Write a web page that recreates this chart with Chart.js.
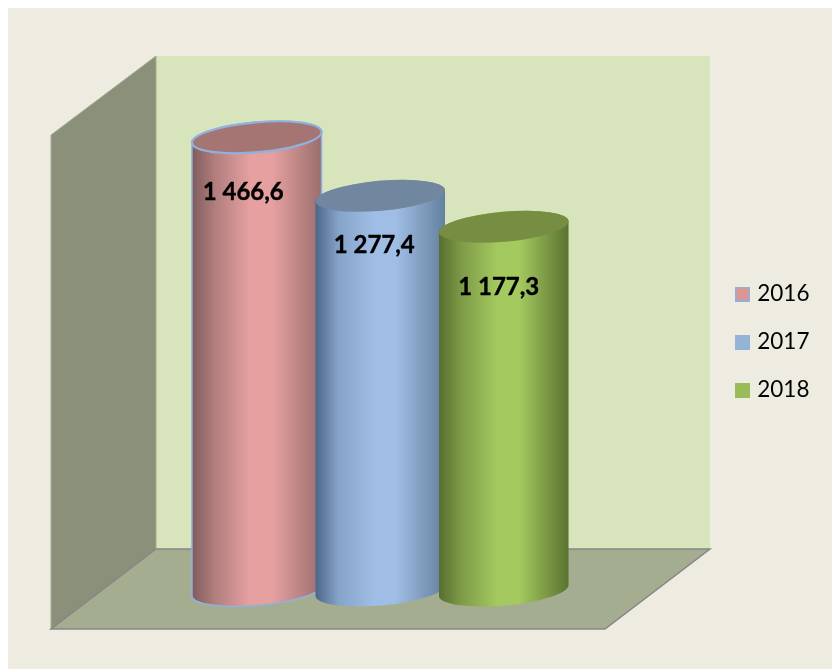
<!DOCTYPE html>
<html>
<head>
<meta charset="utf-8">
<title>Chart</title>
<script src="https://cdn.jsdelivr.net/npm/chart.js@4"></script>
<style>
  html, body { margin: 0; padding: 0; background: #fff; }
  canvas { display: block; }
</style>
</head>
<body>
<canvas id="chart" width="832" height="669"></canvas>
<script>
// data
var categories = [''];
var seriesNames = ['2016', '2017', '2018'];
var values = [1466.6, 1277.4, 1177.3];
var valueLabels = ['1 466,6', '1 277,4', '1 177,3'];

// styling per series
var legendFill = ['#D99694', '#95B3D7', '#9BBB59'];
var edgeLine = ['#8FB1DE', null, null];
var capFill = ['#A57573', '#71879F', '#768D42'];
var bodyStops = [
  ['#7E5B5B', '#B27E7E', '#E6A0A0', '#E6A0A0', '#9A6E6E'],
  ['#4C6687', '#86A3C8', '#A0BEE5', '#A0BEE5', '#64809F'],
  ['#566F2E', '#7F9C48', '#A3C95F', '#A3C95F', '#5A7230']
];
var labelShift = [[-13.5, 55], [-6, 49], [-5, 60]];

// box frame around the bars
var panel = { x: 8, y: 8, w: 824, h: 661, fill: '#EEECE1' };
var backWall = { left: 156, right: 710, top: 56, bottom: 549, fill: '#D8E4BC' };
var depth = { x: 105, y: 80 };

// legend swatch as a small canvas so the text can sit closer to it
function makeSwatch(fill, border) {
  var c = document.createElement('canvas');
  c.width = 15;
  c.height = 15;
  var g = c.getContext('2d');
  g.fillStyle = fill;
  g.fillRect(0, 0, 15, 15);
  if (border) {
    g.strokeStyle = border;
    g.lineWidth = 1.5;
    g.strokeRect(0.75, 0.75, 13.5, 13.5);
  }
  return c;
}

var cylinderPlugin = {
  id: 'cylinder3d',
  beforeDraw: function(chart) {
    var ctx = chart.ctx, w = backWall;
    ctx.save();
    ctx.fillStyle = panel.fill;
    ctx.fillRect(panel.x, panel.y, panel.w, panel.h);
    ctx.fillStyle = w.fill;
    ctx.fillRect(w.left, w.top, w.right - w.left, w.bottom - w.top);

    // left wall
    ctx.beginPath();
    ctx.moveTo(w.left - depth.x, w.top + depth.y - 1);
    ctx.lineTo(w.left, w.top);
    ctx.lineTo(w.left, w.bottom);
    ctx.lineTo(w.left - depth.x, w.bottom + depth.y);
    ctx.closePath();
    ctx.fillStyle = '#8A9079';
    ctx.fill();
    ctx.strokeStyle = '#A3AC8E';
    ctx.lineWidth = 1;
    ctx.stroke();

    // floor
    ctx.beginPath();
    ctx.moveTo(w.left, w.bottom);
    ctx.lineTo(w.right, w.bottom);
    ctx.lineTo(w.right - depth.x, w.bottom + depth.y);
    ctx.lineTo(w.left - depth.x, w.bottom + depth.y);
    ctx.closePath();
    ctx.fillStyle = '#A4AD8F';
    ctx.fill();
    ctx.strokeStyle = '#868686';
    ctx.lineWidth = 1.5;
    ctx.stroke();
    ctx.restore();
  },
  // the default rectangles are replaced by the cylinders below
  beforeDatasetDraw: function() { return false; },
  afterDatasetsDraw: function(chart) {
    for (var i = 0; i < values.length; i++) {
      drawCylinder(chart, i);
    }
  },
  // legend sits far right of the plot, away from the bars
  afterLayout: function(chart) {
    var lg = chart.legend;
    var pad = lg.options.labels.padding;
    var mid = 342;
    lg.left = 739 - pad;
    lg.right = 832;
    lg.top = mid - lg.columnSizes[0].height / 2 - pad / 2;
    lg.bottom = lg.top + lg.columnSizes[0].height + pad;
  }
};

function drawCylinder(chart, i) {
  var ctx = chart.ctx;
  var el = chart.getDatasetMeta(i).data[0];
  var rx = el.width / 2, ry = 15, rot = -5 * Math.PI / 180;
  var left = el.x - rx, right = el.x + rx;
  var baseY = el.base - 0.5;
  var stops = bodyStops[i];

  var grad = ctx.createLinearGradient(left, 0, right, 0);
  grad.addColorStop(0, stops[0]);
  grad.addColorStop(0.18, stops[1]);
  grad.addColorStop(0.45, stops[2]);
  grad.addColorStop(0.62, stops[3]);
  grad.addColorStop(1, stops[4]);

  ctx.save();
  ctx.beginPath();
  ctx.ellipse(el.x, baseY, rx, ry, rot, 0, Math.PI, false);
  ctx.ellipse(el.x, el.y, rx, ry, rot, Math.PI, 0, false);
  ctx.closePath();
  ctx.fillStyle = grad;
  ctx.fill();
  if (edgeLine[i]) {
    ctx.strokeStyle = edgeLine[i];
    ctx.lineWidth = 1.5;
    ctx.stroke();
  }

  ctx.beginPath();
  ctx.ellipse(el.x, el.y, rx, ry, rot, 0, Math.PI * 2);
  ctx.fillStyle = capFill[i];
  ctx.fill();
  if (edgeLine[i]) {
    ctx.strokeStyle = edgeLine[i];
    ctx.lineWidth = 2.2;
    ctx.stroke();
  }

  // a thin outline brings the bold weight closer to the original
  ctx.fillStyle = '#000';
  ctx.strokeStyle = '#000';
  ctx.lineWidth = 0.4;
  ctx.font = 'bold 24px Lato';
  ctx.textAlign = 'center';
  ctx.textBaseline = 'middle';
  ctx.fillText(valueLabels[i], el.x + labelShift[i][0], el.y + labelShift[i][1]);
  ctx.strokeText(valueLabels[i], el.x + labelShift[i][0], el.y + labelShift[i][1]);
  ctx.restore();
}

var datasets = seriesNames.map(function(name, i) {
  return {
    label: name,
    data: [values[i]],
    backgroundColor: legendFill[i],
    categoryPercentage: 1,
    barPercentage: 1.053
  };
});

new Chart(document.getElementById('chart'), {
  type: 'bar',
  data: { labels: categories, datasets: datasets },
  plugins: [cylinderPlugin],
  options: {
    responsive: false,
    animation: false,
    events: [],
    layout: { padding: { left: 195, right: 166, top: 96, bottom: 78 } },
    scales: {
      x: { display: false },
      y: { display: false, min: 0, max: 1600 }
    },
    plugins: {
      tooltip: { enabled: false },
      legend: {
        position: 'right',
        maxWidth: 100.5,
        labels: {
          color: '#000',
          font: { family: 'Lato', size: 22.5 },
          usePointStyle: true,
          pointStyleWidth: 7,
          boxHeight: 15,
          padding: 25.5,
          generateLabels: function(chart) {
            return seriesNames.map(function(name, i) {
              return {
                text: name,
                datasetIndex: i,
                fontColor: '#000',
                fillStyle: legendFill[i],
                strokeStyle: legendFill[i],
                lineWidth: 0,
                pointStyle: makeSwatch(legendFill[i], edgeLine[i])
              };
            });
          }
        }
      }
    }
  }
});
</script>
</body>
</html>
